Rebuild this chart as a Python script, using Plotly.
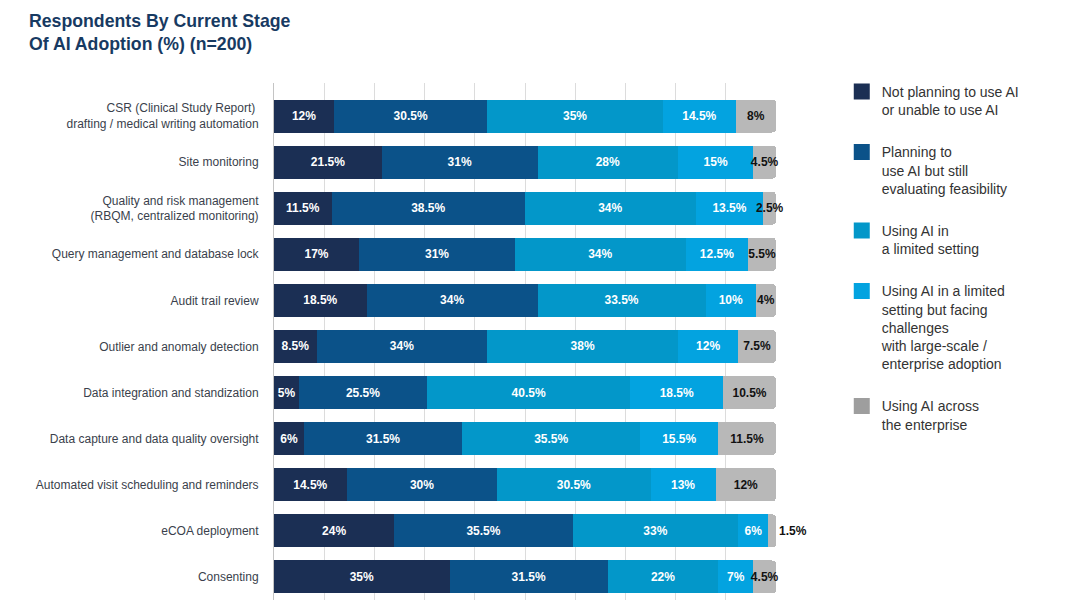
import plotly.graph_objects as go

# Survey data: share of respondents per stage (%), n=200
categories = [
    "CSR (Clinical Study Report) <br>drafting / medical writing automation",
    "Site monitoring",
    "Quality and risk management<br>(RBQM, centralized monitoring)",
    "Query management and database lock",
    "Audit trail review",
    "Outlier and anomaly detection",
    "Data integration and standization",
    "Data capture and data quality oversight",
    "Automated visit scheduling and reminders",
    "eCOA deployment",
    "Consenting",
]

not_planning = [12, 21.5, 11.5, 17, 18.5, 8.5, 5, 6, 14.5, 24, 35]
planning = [30.5, 31, 38.5, 31, 34, 34, 25.5, 31.5, 30, 35.5, 31.5]
limited = [35, 28, 34, 34, 33.5, 38, 40.5, 35.5, 30.5, 33, 22]
limited_challenges = [14.5, 15, 13.5, 12.5, 10, 12, 18.5, 15.5, 13, 6, 7]
enterprise = [8, 4.5, 2.5, 5.5, 4, 7.5, 10.5, 11.5, 12, 1.5, 4.5]

series_names = [
    "Not planning to use AI<br>or unable to use AI",
    "Planning to<br>use AI but still<br>evaluating feasibility",
    "Using AI in<br>a limited setting",
    "Using AI in a limited<br>setting but facing<br>challenges<br>with large-scale /<br>enterprise adoption",
    "Using AI across<br>the enterprise",
]
series_values = [not_planning, planning, limited, limited_challenges, enterprise]
colors = ["#1b2f54", "#0b5289", "#0397c9", "#03a3e0", "#b8b8b8"]
legend_colors = ["#1b2f54", "#0b5289", "#0397c9", "#03a3e0", "#9e9e9e"]
text_colors = ["white", "white", "white", "white", "#111111"]

fig = go.Figure()
for i, (name, vals) in enumerate(zip(series_names, series_values)):
    # very thin last segments get their label just outside the bar end
    if i == len(series_values) - 1:
        tpos = ["outside" if v < 2 else "inside" for v in vals]
    else:
        tpos = "inside"
    fig.add_trace(go.Bar(
        y=categories,
        x=vals,
        name=name,
        orientation="h",
        marker=dict(color=colors[i], line=dict(width=0)),
        texttemplate="<b>%{x}%</b>",
        textposition=tpos,
        insidetextanchor="middle",
        textangle=0,
        textfont=dict(color=text_colors[i], size=12, family="Liberation Sans"),
        cliponaxis=False,
        legendgroup=str(i),
        showlegend=False,
        hoverinfo="skip",
    ))

# legend entries with bigger square swatches
for i, name in enumerate(series_names):
    fig.add_trace(go.Scatter(
        x=[None], y=[None],
        mode="markers",
        name=name,
        marker=dict(symbol="square", size=16, color=legend_colors[i]),
        legendgroup=str(i),
        showlegend=True,
    ))

# page body has an 8px margin, so positions below are shifted by 8px
fig.add_annotation(
    text="<b>Respondents By Current Stage<br>Of AI Adoption (%) (n=200)</b>",
    xref="paper", yref="paper",
    x=(19 - 266) / 502, y=(592 - 1) / 517,
    xanchor="left", yanchor="top",
    align="left",
    showarrow=False,
    font=dict(size=17.7, color="#173a62", family="Liberation Sans"),
)

fig.update_layout(
    barmode="stack",
    bargap=0.284,
    barcornerradius=4,
    width=1080,
    height=600,
    margin=dict(l=266, r=312, t=75, b=8),
    paper_bgcolor="white",
    plot_bgcolor="white",
    font=dict(family="Liberation Sans", size=12, color="#3a3f4c"),
    uniformtext=dict(minsize=12, mode="show"),
    legend=dict(
        x=1.131,
        y=1.0135,
        xanchor="left",
        yanchor="top",
        traceorder="grouped",
        tracegroupgap=21,
        valign="top",
        itemsizing="trace",
        maxheight=1,
        font=dict(size=14, color="#333333", family="Liberation Sans"),
    ),
)

fig.update_xaxes(
    range=[0, 100],
    dtick=10,
    showgrid=True,
    gridcolor="#dcdcdc",
    gridwidth=1,
    showticklabels=False,
    zeroline=False,
    fixedrange=True,
)
fig.update_yaxes(
    range=[10.5, -0.716],
    showline=True,
    linecolor="#c4c4c4",
    linewidth=1,
    ticks="",
    ticklabelstandoff=12,
    tickfont=dict(size=12, color="#3a3f4c"),
    fixedrange=True,
)

fig.write_html("out.html")
